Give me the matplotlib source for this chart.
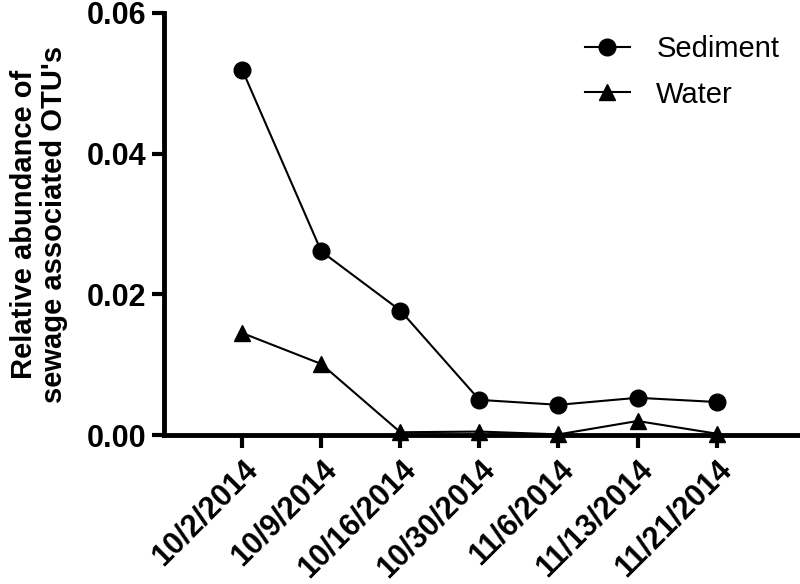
import matplotlib
matplotlib.use("Agg")
import matplotlib.pyplot as plt

plt.rcParams['font.family'] = ['Liberation Sans', 'DejaVu Sans']

dates = ["10/2/2014", "10/9/2014", "10/16/2014", "10/30/2014",
         "11/6/2014", "11/13/2014", "11/21/2014"]
sediment = [0.0519, 0.0261, 0.0177, 0.0050, 0.0043, 0.0053, 0.0047]
water = [0.0145, 0.0101, 0.0004, 0.0005, 0.0001, 0.0020, 0.0002]

fig = plt.figure(figsize=(8, 5.84), dpi=100)
ax = fig.add_axes([0.205, 0.255, 0.7925, 0.723])

x = list(range(len(dates)))
ax.plot(x, sediment, color='black', lw=1.5, marker='o', ms=12,
        label='Sediment', clip_on=False, zorder=3)
ax.plot(x, water, color='black', lw=1.5, marker='^', ms=11,
        label='Water', clip_on=False, zorder=3)

ax.set_xlim(-0.99, 7.03)
ax.set_ylim(0, 0.06)
ax.set_yticks([0.0, 0.02, 0.04, 0.06])
ax.set_yticklabels(["0.00", "0.02", "0.04", "0.06"], fontsize=22, fontweight='bold')
ax.set_xticks(x)
ax.set_xticklabels(dates, rotation=45, ha='right', rotation_mode='anchor',
                   fontsize=22, fontweight='bold')

for s in ['top', 'right']:
    ax.spines[s].set_visible(False)
for s in ['left', 'bottom']:
    ax.spines[s].set_linewidth(3.5)
ax.tick_params(axis='both', width=3, length=9, direction='out')
ax.tick_params(axis='x', pad=5)

ax.set_ylabel("Relative abundance of\nsewage associated OTU's",
              fontsize=21, fontweight='bold', labelpad=14, linespacing=1.05)

ax.legend(loc='upper left', frameon=False, fontsize=21, handlelength=1.55,
          handletextpad=0.9, labelspacing=0.6, borderpad=0, borderaxespad=0,
          bbox_to_anchor=(0.731, 0.94), bbox_transform=fig.transFigure)

fig.savefig("out.png", dpi=100)
